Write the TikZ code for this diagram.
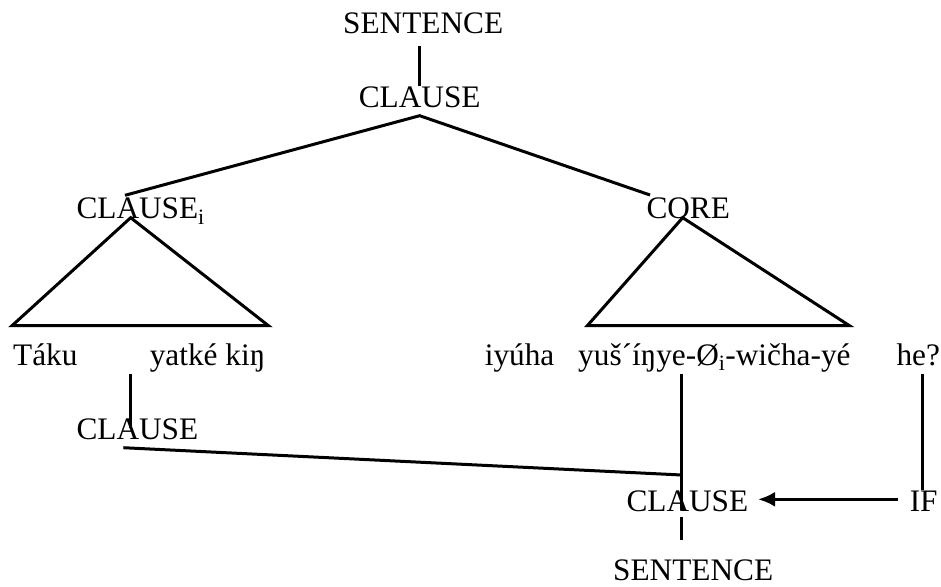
\documentclass[tikz,border=0pt]{standalone}
\usepackage{fontspec}
\setmainfont{Liberation Serif}
\usepackage{tikz}
\usetikzlibrary{calc}
\usetikzlibrary{arrows.meta}
\tikzset{every picture/.style={line width=3pt,x=1pt,y=1pt},lbl/.style={inner sep=0pt,anchor=base west,font=\fontsize{31.3}{37}\selectfont}}

\begin{document}
\begin{tikzpicture}
\useasboundingbox (0,0) rectangle (941,-586);
\node (s1) [lbl] at (341.7,-33.3) {SENTENCE};
\node (c1) [lbl] at (357.3,-107.3) {CLAUSE};
\node (ci) [lbl] at (75,-218.3) {CLAUSE\textsubscript{i}};
\node (core) [lbl] at (645,-218) {CORE};
\node (w1) [lbl] at (11.7,-365) {Táku};
\node (w2) [lbl] at (148.3,-365) {yatké kiŋ};
\node (w3) [lbl] at (483.3,-365) {iyúha};
\node (w4) [lbl] at (576.7,-365) {yuš´íŋye-Ø\textsubscript{i}-wičha-yé};
\node (w5) [lbl] at (895,-365) {he?};
\node (c2) [lbl] at (75,-439.3) {CLAUSE};
\node (c3) [lbl] at (625,-511.7) {CLAUSE};
\node (iff) [lbl] at (908.3,-511.7) {IF};
\node (s2) [lbl] at (611.7,-580) {SENTENCE};

\draw ($(s1.south -| c1.north)+(0,-10.7)$) -- ($(c1.north)+(0,-1)$);
\draw ($(ci.base west)+(50,23)$) -- ($(c1.base)+(0,-8.4)$) -- ($(core.base west)+(5,23)$);
\draw ($(ci.base west)+(55.7,0.6)$) -- ($(w1.base west)+(0.3,39.3)$) -- ($(w2.base east)+(1.7,39.3)$) -- cycle;
\draw ($(core.base west)+(37.7,0.3)$) -- ($(w4.base west)+(10.6,39.3)$) -- ($(w4.base east)+(-2.6,39.3)$) -- cycle;
\draw ($(w2.base west)+(-17.6,-9)$) -- ($(c2.base west)+(55.7,11)$);
\draw ($(c2.base west)+(48.3,-8.4)$) -- ($(c3.base west)+(56.7,36.7)$);
\draw ($(w4.base west)+(105,-9)$) -- ($(c3.base west)+(56.7,1.7)$);
\draw ($(c3.base west)+(56.7,-5)$) -- ($(s2.base west)+(70,40)$);
\draw ($(w5.base west)+(27.7,-9)$) -- ($(iff.base west)+(14.4,21.7)$);
\draw[-{Latex[length=17pt,width=15pt]}] ($(iff.base west)+(-10,12.4)$) -- ($(c3.base east)+(8.3,12.4)$);
\end{tikzpicture}
\end{document}
